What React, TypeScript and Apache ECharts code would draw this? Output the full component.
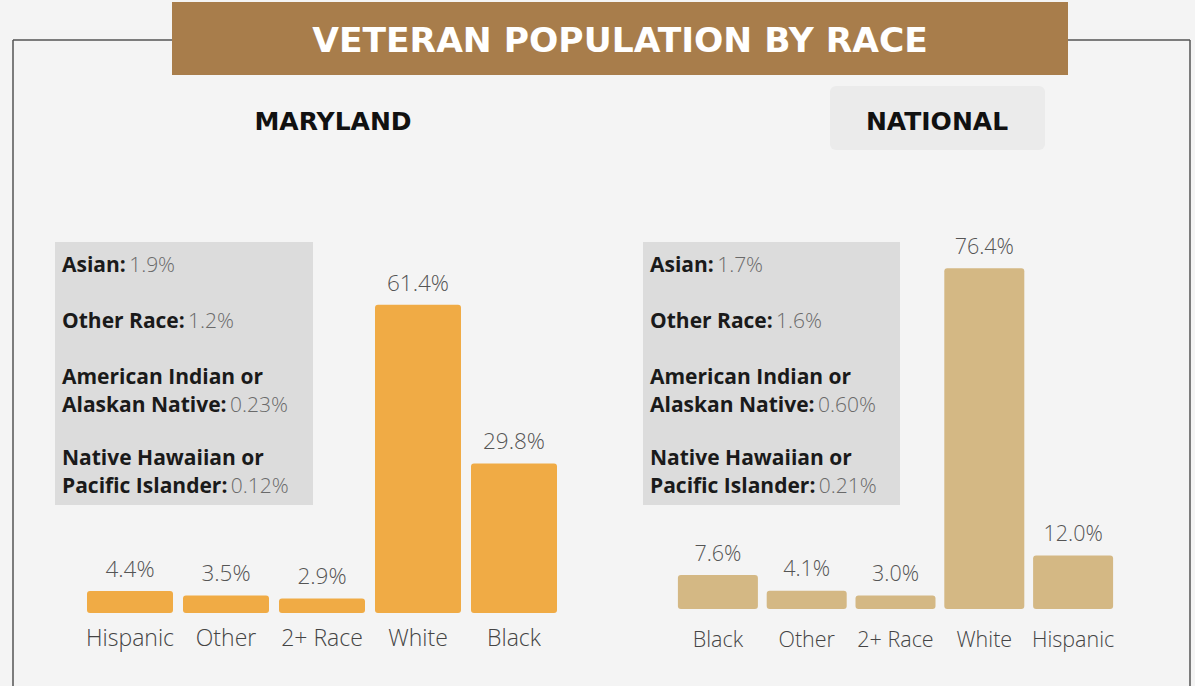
import React, { useEffect, useRef } from "react";
import * as echarts from "echarts";

const mdCategories = ["Hispanic", "Other", "2+ Race", "White", "Black"];
const mdValues = [4.4, 3.5, 2.9, 61.4, 29.8];
const natCategories = ["Black", "Other", "2+ Race", "White", "Hispanic"];
const natValues = [7.6, 4.1, 3.0, 76.4, 12.0];

const mdOtherLabels = ["Asian:", "Other Race:", "American Indian or\nAlaskan Native:", "Native Hawaiian or\nPacific Islander:"];
const mdOtherValues = ["1.9%", "1.2%", "0.23%", "0.12%"];
const natOtherLabels = ["Asian:", "Other Race:", "American Indian or\nAlaskan Native:", "Native Hawaiian or\nPacific Islander:"];
const natOtherValues = ["1.7%", "1.6%", "0.60%", "0.21%"];

const TITLE = "VETERAN POPULATION BY RACE";
const LEFT_TITLE = "MARYLAND";
const RIGHT_TITLE = "NATIONAL";

const FONT = "'Open Sans', 'Noto Sans', sans-serif";

function infoTexts(x: number, labels: string[], values: string[]) {
  const ys = [264, 320, 376, 457];
  const out: any[] = [];
  labels.forEach((lab, i) => {
    const parts = lab.split("\n");
    parts.forEach((p, j) => {
      const last = j === parts.length - 1;
      const txt = last ? `{b|${p}} {n|${values[i]}}` : `{b|${p}}`;
      out.push({
        type: "text",
        x,
        y: ys[i] + j * 28,
        style: {
          text: txt,
          verticalAlign: "middle",
          rich: {
            b: { fontFamily: FONT, fontWeight: "bold", fontSize: 21, fill: "#1a1a1a" },
            n: { fontFamily: FONT, fontWeight: 300, fontSize: 21, fill: "#6a6a6a" },
          },
        },
      });
    });
  });
  return out;
}

export default function App() {
  const ref = useRef<HTMLDivElement>(null);
  useEffect(() => {
    const chart = echarts.init(ref.current!, undefined, { renderer: "svg" });
    const mkLabel = (fs: number, dist: number) => ({
      show: true,
      position: "top",
      distance: dist,
      formatter: (p: any) => p.value.toFixed(1) + "%",
      fontFamily: FONT,
      fontSize: fs,
      fontWeight: 300,
      color: "#555",
    });
    const mkAxisLabel = (fs: number, margin: number) => ({
      fontFamily: FONT, fontSize: fs, fontWeight: 300, color: "#444", margin, interval: 0,
    });
    chart.setOption({
      animation: false,
      backgroundColor: "#f4f4f4",
      grid: [
        { left: 82, width: 480, top: 613 - 80 * 5.02, height: 80 * 5.02 },
        { left: 673.5, width: 444, top: 609 - 80 * 4.46, height: 80 * 4.46 },
      ],
      xAxis: [
        { type: "category", gridIndex: 0, data: mdCategories, axisLine: { show: false }, axisTick: { show: false }, axisLabel: mkAxisLabel(23, 12) },
        { type: "category", gridIndex: 1, data: natCategories, axisLine: { show: false }, axisTick: { show: false }, axisLabel: mkAxisLabel(21.5, 18) },
      ],
      yAxis: [
        { type: "value", gridIndex: 0, min: 0, max: 80, show: false, splitLine: { show: false } },
        { type: "value", gridIndex: 1, min: 0, max: 80, show: false, splitLine: { show: false } },
      ],
      graphic: [
        { type: "line", shape: { x1: 13, y1: 40, x2: 13, y2: 700 }, style: { stroke: "#555", lineWidth: 1.5 } },
        { type: "line", shape: { x1: 13, y1: 40, x2: 175, y2: 40 }, style: { stroke: "#555", lineWidth: 1.5 } },
        { type: "line", shape: { x1: 1065, y1: 40, x2: 1190, y2: 40 }, style: { stroke: "#555", lineWidth: 1.5 } },
        { type: "line", shape: { x1: 1190, y1: 40, x2: 1190, y2: 700 }, style: { stroke: "#555", lineWidth: 1.5 } },
        { type: "rect", shape: { x: 172, y: 2, width: 896, height: 73 }, style: { fill: "#a87d4b" } },
        {
          type: "text", x: 620, y: 40,
          style: { text: TITLE, fill: "#fff", fontFamily: "'DejaVu Sans', sans-serif", fontWeight: "bold", fontSize: 34.5, align: "center", verticalAlign: "middle" },
        },
        { type: "rect", shape: { x: 830, y: 86, width: 215, height: 64, r: 6 }, style: { fill: "#ebebeb" } },
        {
          type: "text", x: 333, y: 121,
          style: { text: LEFT_TITLE, fill: "#111", fontFamily: "'DejaVu Sans', sans-serif", fontWeight: "bold", fontSize: 25, align: "center", verticalAlign: "middle" },
        },
        {
          type: "text", x: 937, y: 121,
          style: { text: RIGHT_TITLE, fill: "#111", fontFamily: "'DejaVu Sans', sans-serif", fontWeight: "bold", fontSize: 25, align: "center", verticalAlign: "middle" },
        },
        { type: "rect", shape: { x: 55, y: 242, width: 258, height: 263 }, style: { fill: "#dcdcdc" } },
        { type: "rect", shape: { x: 643, y: 242, width: 257, height: 263 }, style: { fill: "#dcdcdc" } },
        ...infoTexts(62, mdOtherLabels, mdOtherValues),
        ...infoTexts(650, natOtherLabels, natOtherValues),
      ],
      series: [
        {
          type: "bar", xAxisIndex: 0, yAxisIndex: 0, data: mdValues, barWidth: 86,
          itemStyle: { color: "#f0ab45", borderRadius: 3 }, label: mkLabel(22.5, 11),
        },
        {
          type: "bar", xAxisIndex: 1, yAxisIndex: 1, data: natValues, barWidth: 80,
          itemStyle: { color: "#d4b884", borderRadius: 3 }, label: mkLabel(21.5, 12),
        },
      ],
    });
    return () => chart.dispose();
  }, []);
  return <div ref={ref} style={{ position: "fixed", left: 0, top: 0, width: 1195, height: 686 }} />;
}
